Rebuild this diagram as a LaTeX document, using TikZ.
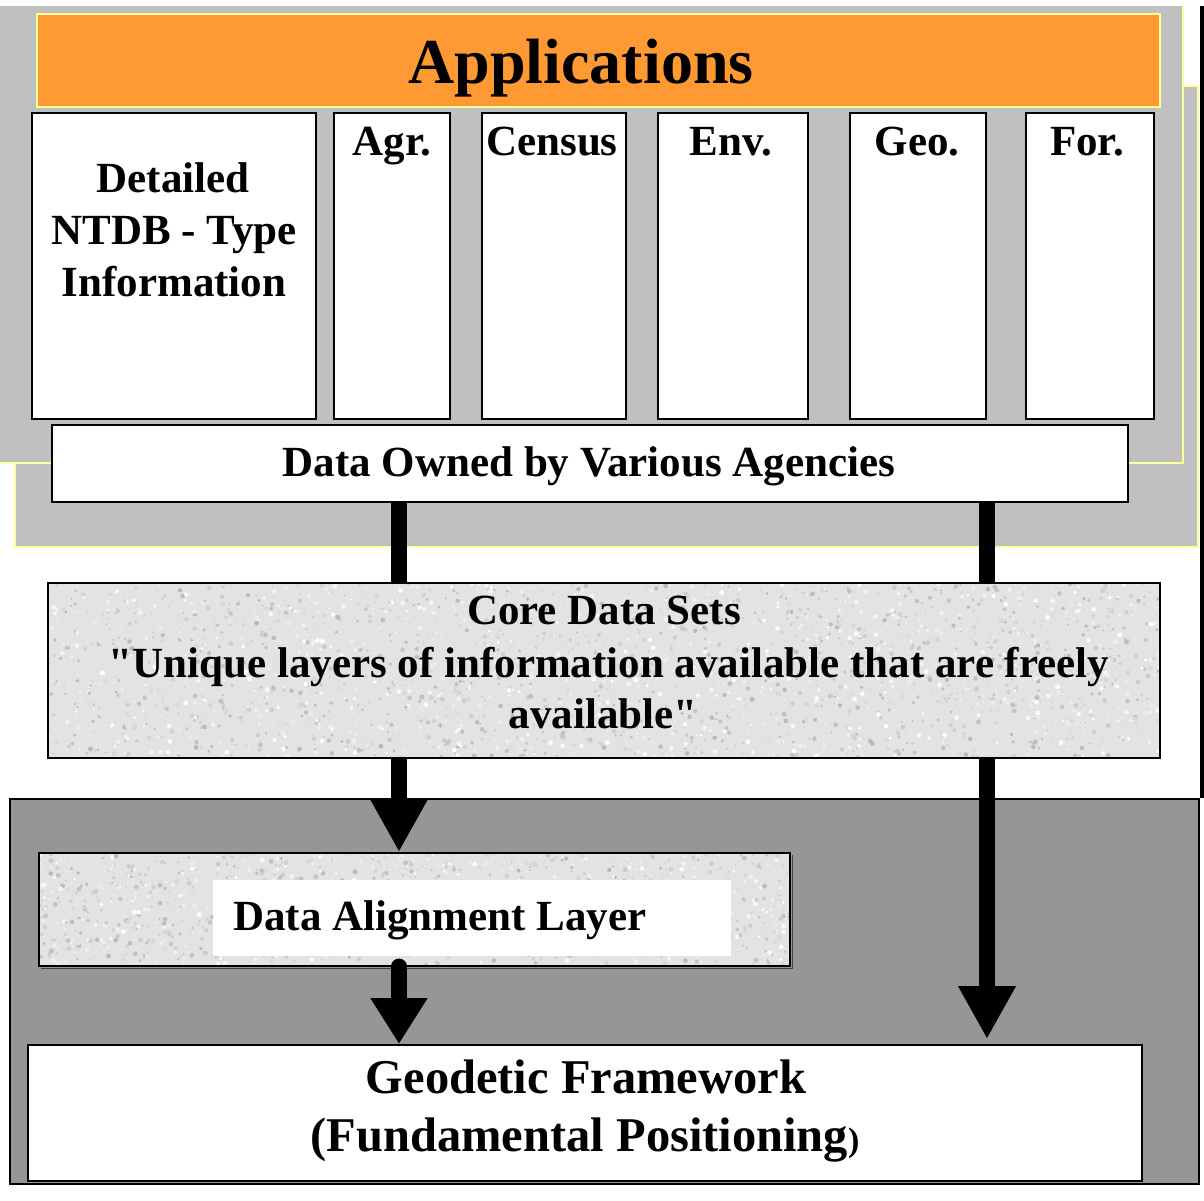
\documentclass[tikz,border=0pt]{standalone}
\usepackage{fontspec}
\setmainfont{Liberation Serif}
\usetikzlibrary{arrows.meta}
\definecolor{lgray}{HTML}{C0C0C0}
\definecolor{ylw}{HTML}{FFFF99}
\definecolor{orng}{HTML}{FF9933}
\definecolor{dgray}{HTML}{969696}
\definecolor{texbase}{HTML}{E3E3E3}
\newcommand{\granitefill}[5]{%
  \fill[texbase] (#1,#2) rectangle (#3,#4);
  \begin{scope}
    \clip (#1,#2) rectangle (#3,#4);
    \foreach \k in {1,...,#5}{%
      \pgfmathsetmacro{\gx}{#1+rnd*(#3-#1)}%
      \pgfmathsetmacro{\gy}{#2+rnd*(#4-#2)}%
      \pgfmathsetmacro{\gr}{0.7+rnd*1.8}%
      \pgfmathtruncatemacro{\gs}{rnd*56}%
      \fill[gray!\gs] (\gx,\gy) circle (\gr);
    }
  \end{scope}
}
\newcommand{\dq}{\XeTeXglyph\XeTeXcharglyph"22\relax}
\begin{document}
\begin{tikzpicture}[x=1pt,y=-1pt,
  box/.style={draw=black, line width=2pt, fill=white, inner sep=0pt, anchor=north west},
  frame/.style={draw=black, line width=2pt, inner sep=0pt, anchor=north west},
  lbl/.style={font=\bfseries\fontsize{43}{52}\selectfont, anchor=base, inner sep=0pt},
  big/.style={font=\bfseries\fontsize{48.5}{58}\selectfont, anchor=base, inner sep=0pt},
  shaft/.style={line width=16pt},
]
\useasboundingbox (0,0) rectangle (1204,1200);
\fill[white] (0,0) rectangle (1204,1200);
\pgfmathsetseed{17}

% back gray panels
\fill[lgray] (15,86) rectangle (1198,547);
\draw[ylw, line width=1.5pt] (15,86) rectangle (1198,547);
\fill[lgray] (0,6) rectangle (1183,463);
\draw[ylw, line width=1.5pt] (0,463) -- (1183,463) -- (1183,6);
\fill[black] (1200,6) rectangle (1204,798);

% applications bar
\node[draw=ylw, line width=1.5pt, fill=orng, anchor=north west, inner sep=0pt,
      minimum width=1123pt, minimum height=93pt] (app) at (36,13) {};
\node[font=\bfseries\fontsize{64}{64}\selectfont, anchor=base, inner sep=0pt] (tapp) at (581,83) {Applications};

% top row boxes
\node[box, minimum width=284pt, minimum height=306pt] (det) at (31,112) {};
\node[box, minimum width=116pt, minimum height=306pt] (agr) at (333,112) {};
\node[box, minimum width=144pt, minimum height=306pt] (cen) at (481,112) {};
\node[box, minimum width=150pt, minimum height=306pt] (env) at (657,112) {};
\node[box, minimum width=136pt, minimum height=306pt] (geob) at (849,112) {};
\node[box, minimum width=128pt, minimum height=306pt] (for) at (1025,112) {};

\node[lbl] (tdet1) at (173,192) {Detailed};
\node[lbl] (tdet2) at (174,244) {NTDB - Type};
\node[lbl] (tdet3) at (174,296) {Information};
\node[lbl] (tagr) at (392,155) {Agr.};
\node[lbl] (tcen) at (552,155) {Census};
\node[lbl] (tenv) at (731,155) {Env.};
\node[lbl] (tgeo) at (917,155) {Geo.};
\node[lbl] (tfor) at (1087,155) {For.};

% data owned
\node[box, minimum width=1076pt, minimum height=77pt] (owned) at (51,424) {};
\node[lbl] (towned) at (589,476) {Data Owned by Various Agencies};

% core data sets
\granitefill{47}{582}{1159}{757}{3000}
\node[frame, minimum width=1112pt, minimum height=175pt] (core) at (47,582) {};
\node[lbl] (tcore1) at (604,624) {Core Data Sets};
\node[lbl] (tcore2) at (609,677) {\dq Unique layers of information available that are freely};
\node[lbl] (tcore3) at (603,728) {available\dq};

% dark gray panel
\node[draw=black, line width=2pt, fill=dgray, anchor=north west, inner sep=0pt,
      minimum width=1189pt, minimum height=385pt] (dark) at (9,798) {};

% data alignment layer
\granitefill{38}{852}{789}{965}{1700}
\draw[black!75, line width=1pt] (41,968) -- (792,968) -- (792,855);
\node[draw=black, line width=1.5pt, inner sep=0pt, anchor=north west,
      minimum width=751pt, minimum height=113pt] (align) at (38,852) {};
\node[fill=white, inner sep=0pt, anchor=north west,
      minimum width=518pt, minimum height=76pt] (alabel) at (213,880) {};
\node[lbl, anchor=base west] (talign) at (233,930) {Data Alignment Layer};

% geodetic framework
\node[box, minimum width=1114pt, minimum height=136pt] (geo) at (27,1044) {};
\node[big] (tgeo1) at (586,1093) {Geodetic Framework};
\node[big] (tgeo2) at (585,1151) {(Fundamental Positioning{\fontsize{34}{34}\selectfont)}};

% connectors
\coordinate (xl) at (399,0);
\coordinate (xr) at (987,0);
\draw[shaft] (owned.south -| xl) -- (core.north -| xl);
\draw[shaft] (owned.south -| xr) -- (core.north -| xr);
\draw[shaft, -{Triangle[width=54pt,length=53pt]}] (core.south -| xl) -- (align.north -| xl);
\draw[shaft, line cap=round, -{Triangle[width=54pt,length=46pt]}] (align.south -| xl) -- (geo.north -| xl);
\draw[shaft, shorten >=5pt, -{Triangle[width=54pt,length=53pt]}] (core.south -| xr) -- (geo.north -| xr);
\end{tikzpicture}
\end{document}
